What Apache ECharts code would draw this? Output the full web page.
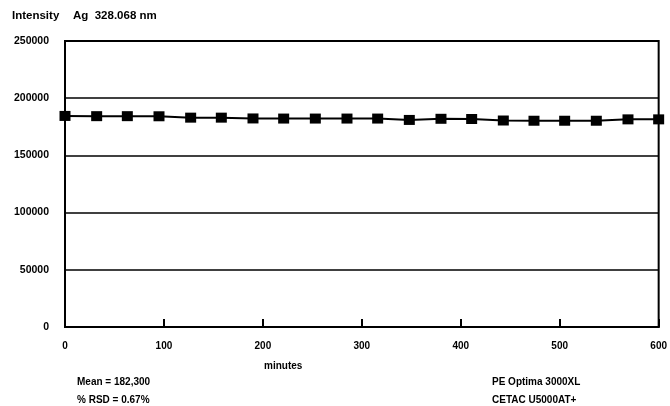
<!DOCTYPE html>
<html><head><meta charset="utf-8">
<script src="https://cdn.jsdelivr.net/npm/echarts@6/dist/echarts.min.js"></script>
<style>html,body{margin:0;padding:0;background:#fff}#c{width:670px;height:406px}</style>
</head><body><div id="c"></div>
<script>
var minutes = [0, 32, 63, 95, 127, 158, 190, 221, 253, 285, 316, 348, 380, 411, 443, 474, 505, 537, 569, 600];
var intensity = [184500, 184300, 184300, 184200, 183000, 183000, 182300, 182200, 182200, 182200, 182200, 181000, 182000, 181800, 180500, 180300, 180300, 180300, 181500, 181500];
var yTicks = [0, 50000, 100000, 150000, 200000, 250000];
var xTicks = [0, 100, 200, 300, 400, 500, 600];
var F = 'Liberation Sans, Arial, sans-serif';
var chart = echarts.init(document.getElementById('c'));
chart.setOption({
  animation: false,
  grid: {left: 65, right: 11, top: 41, bottom: 79, show: true, borderColor: '#000', borderWidth: 2, backgroundColor: 'transparent'},
  xAxis: {type: 'value', min: 0, max: 600, interval: 100,
    axisLine: {show: true, lineStyle: {color: '#000', width: 2}},
    axisTick: {show: true, inside: true, length: 8, lineStyle: {color: '#000', width: 2}},
    splitLine: {show: false},
    axisLabel: {color: '#000', fontFamily: F, fontWeight: 'bold', fontSize: 10, margin: 14}},
  yAxis: {type: 'value', min: 0, max: 250000, interval: 50000,
    axisLine: {show: true, lineStyle: {color: '#000', width: 2}},
    axisTick: {show: false},
    splitLine: {show: true, lineStyle: {color: '#000', width: 1.5}},
    axisLabel: {color: '#000', fontFamily: F, fontWeight: 'bold', fontSize: 10.5, margin: 16,
      formatter: function(v){ return yTicks.indexOf(v) >= 0 ? String(v) : ''; }}},
  series: [{type: 'line', data: minutes.map(function(m, i){ return [m, intensity[i]]; }),
    symbol: 'rect', symbolSize: [11, 10], clip: true,
    itemStyle: {color: '#000'}, lineStyle: {color: '#000', width: 2}}],
  graphic: [
    {type: 'text', left: 12, top: 10, style: {text: 'Intensity', fill: '#000', font: 'bold 11.5px ' + F}},
    {type: 'text', left: 73, top: 10, style: {text: 'Ag  328.068 nm', fill: '#000', font: 'bold 11.5px ' + F}},
    {type: 'text', left: 264, top: 361, style: {text: 'minutes', fill: '#000', font: 'bold 10px ' + F}},
    {type: 'text', left: 77, top: 377, style: {text: 'Mean = 182,300', fill: '#000', font: 'bold 10px ' + F}},
    {type: 'text', left: 77, top: 395, style: {text: '% RSD = 0.67%', fill: '#000', font: 'bold 10px ' + F}},
    {type: 'text', left: 492, top: 377, style: {text: 'PE Optima 3000XL', fill: '#000', font: 'bold 10px ' + F}},
    {type: 'text', left: 492, top: 395, style: {text: 'CETAC U5000AT+', fill: '#000', font: 'bold 10px ' + F}}
  ]
});
</script></body></html>
